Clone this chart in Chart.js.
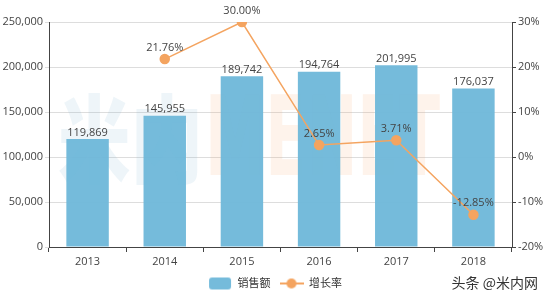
<!DOCTYPE html>
<html>
<head>
<meta charset="utf-8">
<script src="https://cdn.jsdelivr.net/npm/chart.js@4.4.0/dist/chart.umd.min.js"></script>
<style>
	html, body { margin: 0; padding: 0; background: #fff; }
	#wrap { position: relative; width: 550px; height: 299px; }
	#mark { position: absolute; right: 12px; bottom: 7px; font: 14px "Noto Sans CJK SC", sans-serif; color: #333; }
</style>
</head>
<body>
<div id="wrap">
	<canvas id="appChart" width="550" height="299"></canvas>
	<div id="mark">头条 @米内网</div>
</div>
<script>
// 차트 데이터
//--------------------------------------------------------//
const YEARS   = ['2013', '2014', '2015', '2016', '2017', '2018'];
const SALES   = [119869, 145955, 189742, 194764, 201995, 176037];
const GROWTH  = [null, 21.76, 30.00, 2.65, 3.71, -12.85];
const BAR_CLR = 'rgba(110,183,217,0.95)';
const LINE_CLR = '#F4A460';
const FONT = '"Open Sans", "Noto Sans CJK SC", sans-serif';

// 범례 아이콘
let makeIcon = function(type) {
	let c = document.createElement('canvas');
	c.width = 24; c.height = 14;
	let ctx = c.getContext('2d');
	if (type == 'bar') {
		ctx.fillStyle = BAR_CLR;
		ctx.beginPath();
		ctx.roundRect(1, 1, 22, 12, 3);
		ctx.fill();
	} else {
		ctx.strokeStyle = LINE_CLR;
		ctx.lineWidth = 2;
		ctx.beginPath(); ctx.moveTo(0, 7); ctx.lineTo(24, 7); ctx.stroke();
		ctx.fillStyle = LINE_CLR;
		ctx.beginPath(); ctx.arc(12, 7, 5, 0, Math.PI * 2); ctx.fill();
	}
	return c;
};

// 워터마크 (가로 폭 맞춤)
let drawMark = function(ctx, text, font, color, x, w) {
	ctx.save();
	ctx.font = font;
	let m = ctx.measureText(text).width;
	ctx.translate(x, 175);
	ctx.scale(w / m, 1);
	ctx.fillStyle = color;
	ctx.textBaseline = 'alphabetic';
	ctx.fillText(text, 0, 0);
	ctx.restore();
};

// 워터마크 + 값 라벨
const labelPlugin = {
	id: 'labelPlugin',
	beforeDatasetsDraw: function(chart) {
		let ctx = chart.ctx;
		drawMark(ctx, '米内', '900 96px "Noto Sans CJK SC"', 'rgba(120,180,210,0.13)', 58, 145);
		drawMark(ctx, 'MENET', 'bold 110px "DejaVu Sans"', 'rgba(245,160,90,0.12)', 205, 235);
	},
	afterDatasetsDraw: function(chart) {
		let ctx = chart.ctx;
		ctx.save();
		ctx.font = '11px ' + FONT;
		ctx.fillStyle = '#444';
		ctx.textAlign = 'center';
		ctx.textBaseline = 'bottom';
		chart.getDatasetMeta(1).data.forEach(function(el, i) {
			ctx.fillText(SALES[i].toLocaleString('en-US'), el.x, el.y - 1);
		});
		chart.getDatasetMeta(0).data.forEach(function(el, i) {
			if (GROWTH[i] == null) return;
			ctx.fillText(GROWTH[i].toFixed(2) + '%', el.x, el.y - 6);
		});
		ctx.restore();
	}
};

new Chart(document.getElementById('appChart'), {
	data: {
		labels: YEARS,
		datasets: [{
			type: 'line',
			label: '增长率',
			data: GROWTH,
			yAxisID: 'y1',
			borderColor: LINE_CLR,
			backgroundColor: LINE_CLR,
			borderWidth: 1.5,
			pointRadius: 4.5,
			pointHoverRadius: 4.5,
			tension: 0,
			order: 1
		}, {
			type: 'bar',
			label: '销售额',
			data: SALES,
			yAxisID: 'y',
			backgroundColor: BAR_CLR,
			categoryPercentage: 0.55,
			barPercentage: 1,
			order: 2
		}]
	},
	options: {
		responsive: false,
		animation: false,
		layout: { padding: { top: 22, right: 0, left: 0, bottom: 0 } },
		plugins: {
			legend: {
				position: 'bottom',
				reverse: true,
				labels: {
					usePointStyle: true,
					pointStyleWidth: 24,
					boxHeight: 12,
					color: '#333',
					font: { family: FONT, size: 11 },
					padding: 9,
					generateLabels: function(chart) {
						return chart.data.datasets.map(function(ds, i) {
							return {
								text: ds.label,
								pointStyle: makeIcon(ds.type),
								datasetIndex: i,
								fontColor: '#333',
								lineWidth: 0,
								strokeStyle: 'transparent'
							};
						});
					}
				}
			},
			tooltip: { enabled: false }
		},
		scales: {
			x: {
				offset: true,
				afterFit: function(s) { s.height = 22; },
				grid: { offset: true, drawOnChartArea: false, tickLength: 5, color: '#444' },
				border: { color: '#444' },
				ticks: { color: '#444', font: { family: FONT, size: 11 }, padding: 3 }
			},
			y: {
				position: 'left',
				min: 0, max: 250000,
				afterFit: function(s) { s.width = 49; },
				grid: { color: '#ddd', tickLength: 4 },
				border: { color: '#444' },
				ticks: {
					stepSize: 50000, color: '#444', padding: 2,
					font: { family: FONT, size: 11 },
					callback: function(v) { return v.toLocaleString('en-US'); }
				}
			},
			y1: {
				position: 'right',
				min: -20, max: 30,
				afterFit: function(s) { s.width = 38; },
				grid: { drawOnChartArea: false, tickLength: 4, color: '#444' },
				border: { color: '#444' },
				ticks: {
					stepSize: 10, color: '#444', padding: 2,
					font: { family: FONT, size: 11 },
					callback: function(v) { return v + '%'; }
				}
			}
		}
	},
	plugins: [labelPlugin]
});
</script>
</body>
</html>
